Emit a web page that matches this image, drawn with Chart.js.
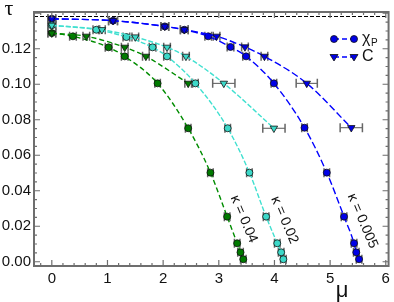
<!DOCTYPE html>
<html><head><meta charset="utf-8">
<script src="https://cdn.jsdelivr.net/npm/chart.js@4/dist/chart.umd.min.js"></script>
<style>html,body{margin:0;padding:0;background:#fff;}canvas{display:block;}</style>
</head><body>
<canvas id="c" width="394" height="302"></canvas>
<script>
// ---- tick labels ----
const xTicks = [0, 1, 2, 3, 4, 5, 6];
const yTicks = [0, 0.02, 0.04, 0.06, 0.08, 0.10, 0.12];
const tauLimit = 0.1386;

// ---- kappa = 0.005 (blue) ----
const muBlueChi  = [0, 1.10, 2.03, 2.38, 2.81, 3.21, 3.49, 3.99, 4.54, 4.94, 5.25, 5.43, 5.47, 5.52];
const tauBlueChi = [0.1369, 0.1358, 0.1326, 0.1307, 0.1270, 0.1210, 0.1157, 0.1005, 0.0755, 0.0502, 0.0254, 0.0104, 0.0053, 0.0014];
const errBlueChi = [0.07, 0.08, 0.07, 0.07, 0.06, 0.06, 0.06, 0.05, 0.05, 0.05, 0.05, 0.05, 0.05, 0.05];
const muBlueC    = [0, 1.10, 2.03, 2.38, 2.96, 3.47, 3.82, 4.58, 5.38];
const tauBlueC   = [0.1369, 0.1358, 0.1326, 0.1307, 0.1270, 0.1210, 0.1157, 0.1005, 0.0755];
const errBlueC   = [0.07, 0.08, 0.07, 0.07, 0.06, 0.06, 0.06, 0.19, 0.20];

// ---- kappa = 0.02 (cyan) ----
const muCyanChi  = [0, 0.80, 1.34, 1.81, 2.07, 2.58, 3.16, 3.55, 3.85, 4.05, 4.12, 4.16];
const tauCyanChi = [0.1332, 0.1307, 0.1266, 0.1208, 0.1157, 0.1005, 0.0752, 0.0502, 0.0254, 0.0104, 0.0053, 0.0014];
const errCyanChi = [0.07, 0.06, 0.06, 0.06, 0.06, 0.05, 0.05, 0.05, 0.05, 0.05, 0.05, 0.05];
const muCyanC    = [0, 0.90, 1.50, 2.07, 2.41, 3.09, 3.99];
const tauCyanC   = [0.1332, 0.1307, 0.1266, 0.1208, 0.1157, 0.1005, 0.0752];
const errCyanC   = [0.07, 0.06, 0.06, 0.06, 0.06, 0.20, 0.20];

// ---- kappa = 0.04 (green) ----
const muGreenChi  = [0, 0.38, 1.02, 1.31, 1.90, 2.45, 2.85, 3.15, 3.33, 3.39, 3.44];
const tauGreenChi = [0.1288, 0.1270, 0.1208, 0.1157, 0.1005, 0.0752, 0.0502, 0.0254, 0.0104, 0.0053, 0.0014];
const errGreenChi = [0.07, 0.06, 0.06, 0.06, 0.05, 0.05, 0.05, 0.05, 0.05, 0.05, 0.05];
const muGreenC    = [0, 0.62, 1.31, 1.69, 2.45];
const tauGreenC   = [0.1288, 0.1270, 0.1208, 0.1157, 0.1005];
const errGreenC   = [0.07, 0.06, 0.06, 0.06, 0.06];

const kappaLabels = ['κ = 0.04', 'κ = 0.02', 'κ = 0.005'];

const BLUE = '#0000ff', CYAN = '#40e0d0', GREEN = '#008c00';

function pts(mu, tau) { return mu.map((m, i) => ({x: m, y: tau[i]})); }
function ds(mu, tau, err, color, fill, tri, dash) {
  return {
    data: pts(mu, tau), errX: err, showLine: true,
    borderColor: color, borderWidth: 1.4, borderDash: dash,
    cubicInterpolationMode: 'monotone',
    pointStyle: tri ? 'triangle' : 'circle', rotation: tri ? 180 : 0,
    pointRadius: tri ? 4.3 : 3.5,
    pointBackgroundColor: fill, pointBorderColor: '#111', pointBorderWidth: 0.8
  };
}

const errPlugin = {
  id: 'errbars',
  beforeDatasetsDraw(chart) {
    const c = chart.ctx, xs = chart.scales.x, ys = chart.scales.y, a = chart.chartArea;
    c.save();
    c.strokeStyle = '#000'; c.lineWidth = 1; c.setLineDash([4, 2]);
    const yl = Math.round(ys.getPixelForValue(tauLimit)) + 0.5;
    c.beginPath(); c.moveTo(a.left, yl); c.lineTo(a.right, yl); c.stroke();
    c.setLineDash([]);
    chart.data.datasets.forEach(d => {
      d.data.forEach((p, i) => {
        const e = d.errX[i];
        const x1 = xs.getPixelForValue(p.x - e), x2 = xs.getPixelForValue(p.x + e);
        const y = ys.getPixelForValue(p.y);
        c.strokeStyle = '#555'; c.lineWidth = 1;
        c.beginPath(); c.moveTo(x1, y); c.lineTo(x2, y); c.stroke();
        c.strokeStyle = '#666'; c.lineWidth = 1.5;
        c.beginPath();
        c.moveTo(x1, y - 4.5); c.lineTo(x1, y + 4.5);
        c.moveTo(x2, y - 4.5); c.lineTo(x2, y + 4.5);
        c.stroke();
      });
    });
    c.restore();
  },
  afterDatasetsDraw(chart) {
    const c = chart.ctx, xs = chart.scales.x, ys = chart.scales.y, a = chart.chartArea;
    c.save();
    c.strokeStyle = '#6e6e6e'; c.lineWidth = 2;
    c.strokeRect(a.left, a.top, a.right - a.left, a.bottom - a.top);
    c.lineWidth = 1.2;
    c.beginPath();
    for (let k = -1; k <= 30; k++) {
      const v = k * 0.2; const x = xs.getPixelForValue(v);
      if (x < a.left + 1 || x > a.right - 1) continue;
      const L = (k % 5 === 0) ? 6 : 3;
      c.moveTo(x, a.bottom); c.lineTo(x, a.bottom - L);
      c.moveTo(x, a.top); c.lineTo(x, a.top + L);
    }
    for (let k = 0; k <= 28; k++) {
      const v = k * 0.005; const y = ys.getPixelForValue(v);
      if (y < a.top + 1 || y > a.bottom - 1) continue;
      const L = (k % 4 === 0) ? 6 : 3;
      c.moveTo(a.left, y); c.lineTo(a.left + L, y);
      c.moveTo(a.right, y); c.lineTo(a.right - L, y);
    }
    c.stroke();

    // legend
    const lx1 = 334, lx2 = 354;
    const rows = [{y: 39, tri: false, label: 'χ', sub: 'P'}, {y: 57, tri: true, label: 'C', sub: ''}];
    rows.forEach(r => {
      c.strokeStyle = BLUE; c.lineWidth = 1.4; c.setLineDash([5, 3]);
      c.beginPath(); c.moveTo(lx1, r.y); c.lineTo(lx2, r.y); c.stroke();
      c.setLineDash([]);
      [lx1, lx2].forEach(x => {
        c.fillStyle = '#0000e6'; c.strokeStyle = '#111'; c.lineWidth = 0.8;
        c.beginPath();
        if (r.tri) {
          c.moveTo(x - 4, r.y - 2.5); c.lineTo(x + 4, r.y - 2.5); c.lineTo(x, r.y + 4); c.closePath();
        } else {
          c.arc(x, r.y, 3.5, 0, Math.PI * 2);
        }
        c.fill(); c.stroke();
      });
      c.fillStyle = '#111'; c.textBaseline = 'middle'; c.textAlign = 'left';
      c.font = '16px "Liberation Sans", Arial, sans-serif';
      c.fillText(r.label, 362, r.y);
      if (r.sub) {
        const w = c.measureText(r.label).width;
        c.font = '10px "Liberation Sans", Arial, sans-serif';
        c.fillText(r.sub, 362 + w + 0.5, r.y + 4);
      }
    });

    // kappa annotations (rotated)
    const annPos = [[3.45, 0.0240], [4.18, 0.0235], [5.58, 0.0230]];
    c.fillStyle = '#111';
    c.font = '14px "Liberation Sans", Arial, sans-serif';
    c.textAlign = 'center'; c.textBaseline = 'middle';
    kappaLabels.forEach((t, i) => {
      const x = xs.getPixelForValue(annPos[i][0]), y = ys.getPixelForValue(annPos[i][1]);
      c.save(); c.translate(x, y); c.rotate(67 * Math.PI / 180);
      c.fillText(t, 0, 0); c.restore();
    });

    // axis titles
    c.font = '22px "Liberation Serif", "DejaVu Serif", serif';
    c.textAlign = 'center'; c.textBaseline = 'middle';
    c.fillText('τ', 9, 9);
    c.font = '22px "Liberation Sans", Arial, sans-serif';
    c.fillText('μ', 342, 291);
    c.restore();
  }
};

new Chart(document.getElementById('c').getContext('2d'), {
  type: 'scatter',
  data: {
    datasets: [
      ds(muGreenC, tauGreenC, errGreenC, GREEN, '#007a00', true, [5, 3]),
      ds(muGreenChi, tauGreenChi, errGreenChi, GREEN, '#007a00', false, [5, 3]),
      ds(muCyanC, tauCyanC, errCyanC, CYAN, '#3cd8c8', true, [5, 2]),
      ds(muCyanChi, tauCyanChi, errCyanChi, CYAN, '#3cd8c8', false, [5, 2]),
      ds(muBlueC, tauBlueC, errBlueC, BLUE, '#0000e6', true, [7, 3]),
      ds(muBlueChi, tauBlueChi, errBlueChi, BLUE, '#0000e6', false, [7, 3])
    ]
  },
  options: {
    responsive: false, animation: false, devicePixelRatio: 1,
    layout: {padding: {top: 12, right: 2, left: 0, bottom: 0}},
    plugins: {legend: {display: false}, tooltip: {enabled: false}},
    scales: {
      x: {
        type: 'linear', position: 'bottom', min: -0.32, max: 6.05,
        afterFit: s => { s.height = 36; },
        afterBuildTicks: s => { s.ticks = xTicks.map(v => ({value: v})); },
        grid: {display: false, drawTicks: false}, border: {display: false},
        ticks: {padding: 4, maxRotation: 0, color: '#111',
          font: {family: '"Liberation Sans", Arial, sans-serif', size: 15},
          callback: v => String(v)}
      },
      y: {
        type: 'linear', min: -0.0024, max: 0.1407,
        afterFit: s => { s.width = 34; },
        afterBuildTicks: s => { s.ticks = yTicks.map(v => ({value: v})); },
        grid: {display: false, drawTicks: false}, border: {display: false},
        ticks: {padding: 3, color: '#111',
          font: {family: '"Liberation Sans", Arial, sans-serif', size: 15},
          callback: v => Number(v).toFixed(2)}
      }
    }
  },
  plugins: [errPlugin]
});
</script>
</body></html>
